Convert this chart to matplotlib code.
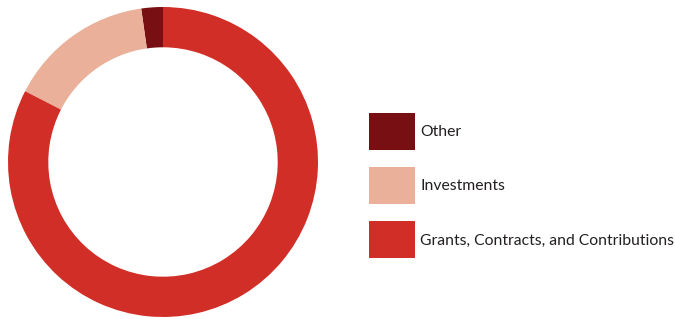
import matplotlib.pyplot as plt
from matplotlib.patches import Rectangle

# Daten
labels = ["Other", "Investments", "Grants, Contracts, and Contributions"]
shares = [2.25, 15.2, 82.55]
colors = ["#781013", "#ebb09a", "#d12e27"]

W, H = 675, 319
fig = plt.figure(figsize=(W / 100, H / 100), dpi=100)

# Ring
ax = fig.add_axes([8 / W, 2 / H, 310 / W, 310 / H])
ax.pie(shares, colors=colors, startangle=90, counterclock=True, radius=1.0,
       wedgeprops=dict(width=0.26, linewidth=0))
ax.set_xlim(-1, 1)
ax.set_ylim(-1, 1)
ax.set_aspect("equal")
ax.axis("off")

# Legende
box_x, box_w, box_h = 369, 46, 37
box_tops = [113, 167, 221]
for lab, col, top in zip(labels, colors, box_tops):
    fig.patches.append(Rectangle((box_x / W, 1 - (top + box_h) / H), box_w / W, box_h / H,
                                 transform=fig.transFigure, facecolor=col, edgecolor="none"))
    fig.text(420 / W, 1 - (top + box_h / 2 + 1) / H, lab, fontsize=11.3,
             family="Lato", va="center", ha="left", color="#231f20")

fig.savefig("out.png", dpi=100)
